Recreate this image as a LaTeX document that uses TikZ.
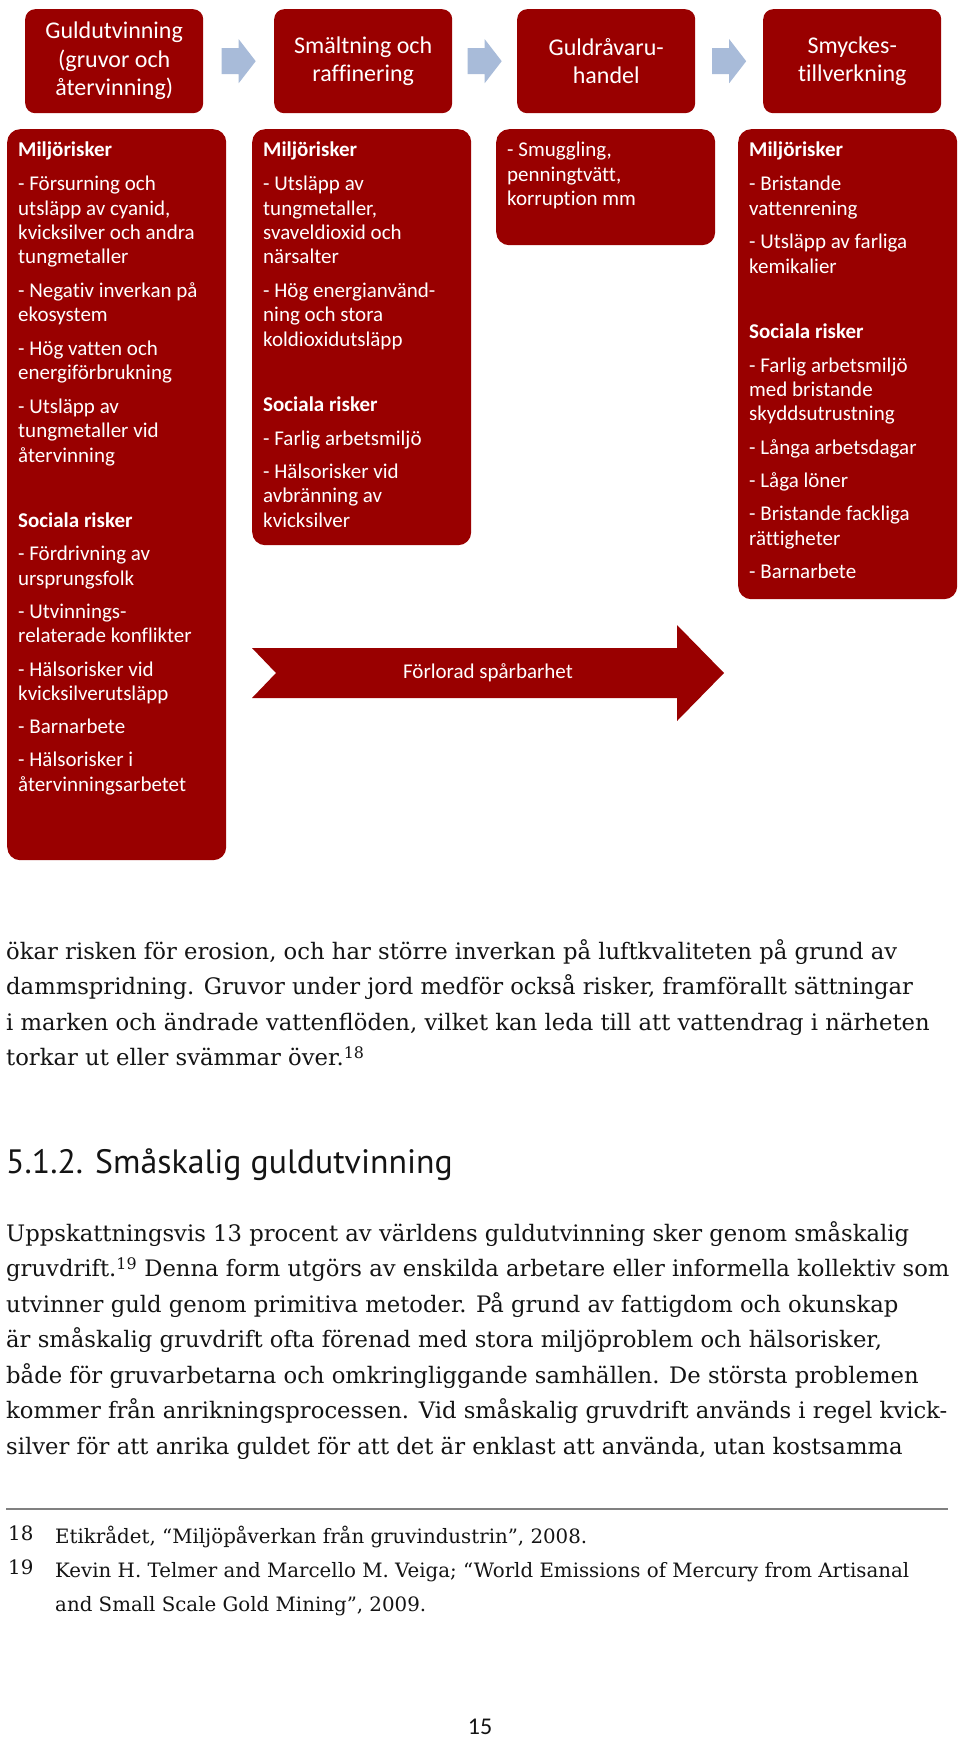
\documentclass[tikz,border=0pt]{standalone}
\usepackage{fontspec}
\usetikzlibrary{calc}
\newfontfamily\calibri[Ligatures=NoCommon]{Carlito}
\newfontfamily\bodyserif{DejaVu Serif}
\newfontfamily\headsans{PT Sans}
\definecolor{riskred}{RGB}{153,0,0}
\definecolor{flowblue}{RGB}{168,187,217}
\definecolor{pageink}{RGB}{20,20,20}

\begin{document}
\begin{tikzpicture}[x=1pt, y=-1pt,
    headbox/.style={fill=riskred, rounded corners=10pt, anchor=north west,
        minimum width=178pt, minimum height=104pt, inner sep=0pt,
        text=white, align=center, font=\calibri\fontsize{24}{28.5}\selectfont},
    riskbox/.style={fill=riskred, rounded corners=13pt, anchor=north west,
        inner sep=0pt, minimum width=219pt},
    risktext/.style={anchor=north west, inner sep=0pt, align=left,
        text=white, font=\calibri\fontsize{21}{24.3}\selectfont},
    flowarrow/.style={fill=flowblue},
    bodytext/.style={anchor=north west, inner sep=0pt, align=left,
        text=pageink, font=\bodyserif\fontsize{22.7}{35.5}\selectfont},
    notetext/.style={anchor=north west, inner sep=0pt, align=left,
        text=pageink, font=\bodyserif\fontsize{19.8}{34}\selectfont}]

    \fill[white] (0,0) rectangle (960,1739);
    \useasboundingbox (0,0) rectangle (960,1739);

    % steps of the chain
    \node[headbox] (hb1) at (25,9) {Guldutvinning\\(gruvor och\\återvinning)};
    \node[headbox] (hb2) at (274,9) {Smältning och\\raffinering};
    \node[headbox] (hb3) at (517,9) {Guldråvaru-\\handel};
    \node[headbox] (hb4) at (763,9) {Smyckes-\\tillverkning};

    \foreach \a/\b in {hb1/hb2, hb2/hb3, hb3/hb4}{
        \coordinate (m) at ($(\a.east)!0.5!(\b.west)$);
        \fill[flowarrow] ([shift={(-17,-13)}]m) -- ([shift={(0,-13)}]m)
            -- ([shift={(0,-22)}]m) -- ([shift={(17,0)}]m)
            -- ([shift={(0,22)}]m) -- ([shift={(0,13)}]m)
            -- ([shift={(-17,13)}]m) -- cycle;
    }

    % risks per step
    \node[riskbox, minimum height=731pt] (b1) at (7,129) {};
    \node[riskbox, minimum height=416pt] (b2) at (252,129) {};
    \node[riskbox, minimum height=116pt] (b3) at (496,129) {};
    \node[riskbox, minimum height=470pt] (b4) at (738,129) {};

    \node[risktext] (t1) at ([shift={(11,13)}]b1.north west) {%
        \textbf{Miljörisker}\\[9.5pt]
        - Försurning och\\utsläpp av cyanid,\\kvicksilver och andra\\tungmetaller\\[9.5pt]
        - Negativ inverkan på\\ekosystem\\[9.5pt]
        - Hög vatten och\\energiförbrukning\\[9.5pt]
        - Utsläpp av\\tungmetaller vid\\återvinning\\[41pt]
        \textbf{Sociala risker}\\[9pt]
        - Fördrivning av\\ursprungsfolk\\[9pt]
        - Utvinnings-\\relaterade konflikter\\[9pt]
        - Hälsorisker vid\\kvicksilverutsläpp\\[9pt]
        - Barnarbete\\[9pt]
        - Hälsorisker i\\återvinningsarbetet};
    \node[risktext] (t2) at ([shift={(11,13)}]b2.north west) {%
        \textbf{Miljörisker}\\[9.5pt]
        - Utsläpp av\\tungmetaller,\\svaveldioxid och\\närsalter\\[9.5pt]
        - Hög energianvänd-\\ning och stora\\koldioxidutsläpp\\[41pt]
        \textbf{Sociala risker}\\[9.5pt]
        - Farlig arbetsmiljö\\[9pt]
        - Hälsorisker vid\\avbränning av\\kvicksilver};
    \node[risktext] (t3) at ([shift={(11,13)}]b3.north west) {%
        - Smuggling,\\penningtvätt,\\korruption mm};
    \node[risktext] (t4) at ([shift={(11,13)}]b4.north west) {%
        \textbf{Miljörisker}\\[9.5pt]
        - Bristande\\vattenrening\\[9.5pt]
        - Utsläpp av farliga\\kemikalier\\[41pt]
        \textbf{Sociala risker}\\[9.5pt]
        - Farlig arbetsmiljö\\med bristande\\skyddsutrustning\\[9pt]
        - Långa arbetsdagar\\[9pt]
        - Låga löner\\[9pt]
        - Bristande fackliga\\rättigheter\\[9pt]
        - Barnarbete};

    % lost traceability
    \fill[riskred] (252,648) -- (276,673) -- (252,698) -- (677,698) -- (677,721)
        -- (724,673) -- (677,625) -- (677,648) -- cycle;
    \node[text=white, font=\calibri\fontsize{21}{24}\selectfont] (lost) at (488,673)
        {Förlorad spårbarhet};

    % running text
    \node[bodytext] (p1) at (6,939) {%
        ökar risken för erosion, och har större inverkan på luftkvaliteten på grund av\\
        dammspridning. Gruvor under jord medför också risker, framförallt sättningar\\
        i marken och ändrade vattenflöden, vilket kan leda till att vattendrag i närheten\\
        torkar ut eller svämmar över.\textsuperscript{18}};

    \node[anchor=base west, inner sep=0pt, text=pageink,
        font=\headsans\fontsize{33.8}{40}\selectfont] (sec) at (6,1173)
        {5.1.2. Småskalig guldutvinning};

    \node[bodytext] (p2) at (6,1221) {%
        Uppskattningsvis 13 procent av världens guldutvinning sker genom småskalig\\
        gruvdrift.\textsuperscript{19} Denna form utgörs av enskilda arbetare eller informella kollektiv som\\
        utvinner guld genom primitiva metoder. På grund av fattigdom och okunskap\\
        är småskalig gruvdrift ofta förenad med stora miljöproblem och hälsorisker,\\
        både för gruvarbetarna och omkringliggande samhällen. De största problemen\\
        kommer från anrikningsprocessen. Vid småskalig gruvdrift används i regel kvick-\\
        silver för att anrika guldet för att det är enklast att använda, utan kostsamma};

    % footnotes
    \draw[gray, line width=2pt] (6,1509) -- (948,1509);
    \node[notetext] (fnnum) at (8,1526) {18\\19};
    \node[notetext] (fntext) at (55,1526) {%
        Etikrådet, “Miljöpåverkan från gruvindustrin”, 2008.\\
        Kevin H. Telmer and Marcello M. Veiga; “World Emissions of Mercury from Artisanal\\
        and Small Scale Gold Mining”, 2009.};

    \node[anchor=base, inner sep=0pt, text=pageink,
        font=\calibri\fontsize{24}{28}\selectfont] (pagenum) at (480,1734) {15};
\end{tikzpicture}
\end{document}
